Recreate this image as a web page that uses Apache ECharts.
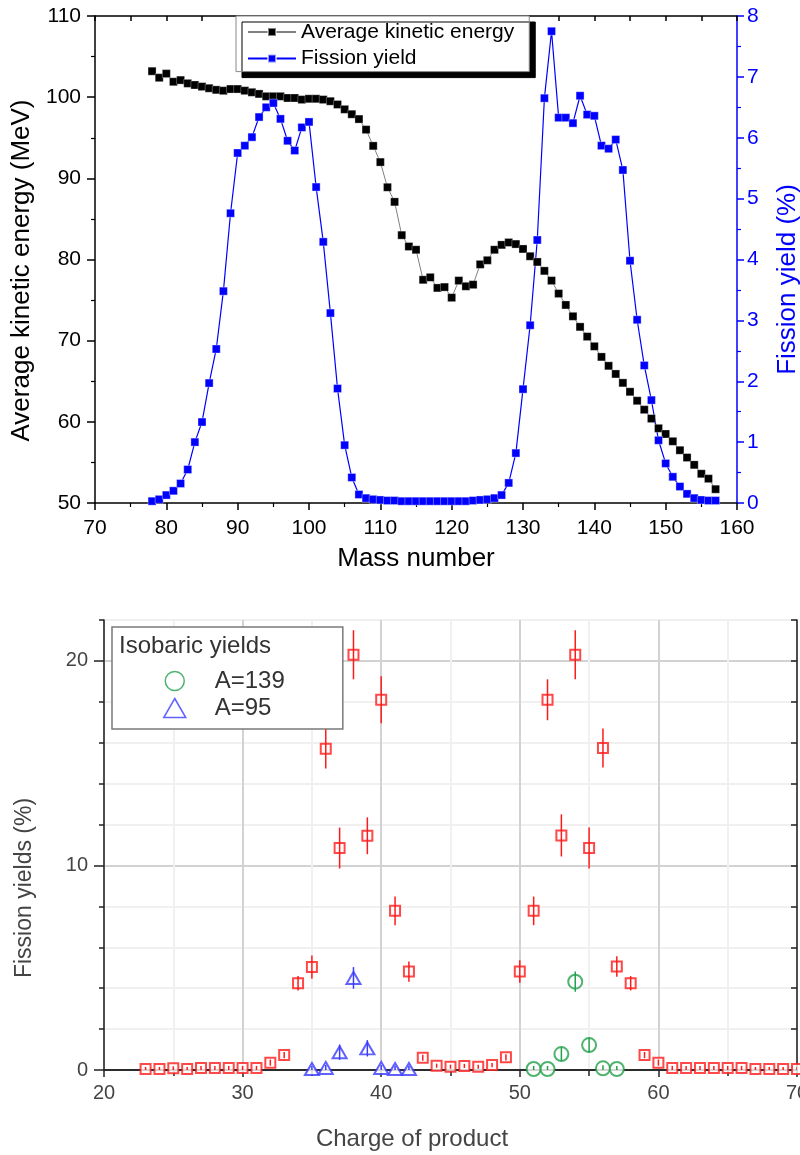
<!DOCTYPE html>
<html><head><meta charset="utf-8">
<script src="https://cdn.jsdelivr.net/npm/echarts@6/dist/echarts.min.js"></script>
<style>html,body{margin:0;padding:0;background:#fff}#c{width:800px;height:1155px}</style>
</head><body><div id="c"></div>
<script>
// ---------- Top chart data ----------
const massNumbers = [78,79,80,81,82,83,84,85,86,87,88,89,90,91,92,93,94,95,96,97,98,99,100,101,102,103,104,105,106,107,108,109,110,111,112,113,114,115,116,117,118,119,120,121,122,123,124,125,126,127,128,129,130,131,132,133,134,135,136,137,138,139,140,141,142,143,144,145,146,147,148,149,150,151,152,153,154,155,156,157];
const kineticEnergy = [103.2,102.4,102.9,101.9,102.1,101.7,101.5,101.3,101.1,100.9,100.8,101.0,101.0,100.8,100.6,100.4,100.1,100.1,100.1,99.9,99.9,99.7,99.8,99.8,99.7,99.5,99.1,98.5,97.9,97.3,96.0,94.0,92.0,88.9,87.1,83.0,81.6,81.2,77.5,77.8,76.5,76.6,75.3,77.4,76.7,76.9,79.4,79.9,81.2,81.8,82.1,81.9,81.3,80.4,79.7,78.6,77.4,75.8,74.4,73.0,71.7,70.5,69.3,68.0,66.9,65.9,64.8,63.7,62.6,61.5,60.4,59.2,58.5,57.6,56.5,55.6,54.7,53.6,53.0,51.7];
const fissionYield = [0.03,0.06,0.13,0.20,0.32,0.55,1.00,1.33,1.97,2.53,3.48,4.76,5.75,5.87,6.01,6.34,6.50,6.57,6.31,5.95,5.79,6.17,6.26,5.19,4.29,3.12,1.88,0.95,0.42,0.14,0.08,0.06,0.05,0.04,0.04,0.03,0.03,0.03,0.03,0.03,0.03,0.03,0.03,0.03,0.03,0.04,0.05,0.06,0.08,0.13,0.33,0.82,1.87,2.92,4.32,6.65,7.75,6.33,6.33,6.24,6.69,6.38,6.36,5.87,5.82,5.97,5.47,3.98,3.01,2.26,1.69,1.03,0.65,0.43,0.27,0.15,0.08,0.05,0.04,0.04];
const topSeriesNames = ['Average kinetic energy', 'Fission yield'];

// ---------- Bottom chart data ----------
const chargeAll = [23,24,25,26,27,28,29,30,31,32,33,34,35,36,37,38,39,40,41,42,43,44,45,46,47,48,49,50,51,52,53,54,55,56,57,58,59,60,61,62,63,64,65,66,67,68,69,70];
const yieldAll  = [0.05,0.05,0.08,0.05,0.1,0.1,0.1,0.1,0.1,0.36,0.73,4.24,5.03,15.7,10.85,20.3,11.45,18.1,7.78,4.81,0.60,0.21,0.16,0.2,0.16,0.24,0.62,4.81,7.78,18.1,11.47,20.3,10.85,15.74,5.06,4.24,0.73,0.36,0.1,0.1,0.1,0.1,0.1,0.1,0.05,0.05,0.05,0.05];
const errAll    = [0.1,0.1,0.1,0.1,0.1,0.1,0.1,0.1,0.1,0.15,0.15,0.35,0.57,0.96,1.0,1.2,0.9,1.15,0.7,0.5,0.15,0.1,0.1,0.1,0.1,0.1,0.15,0.55,0.7,1.0,1.03,1.2,1.0,0.95,0.5,0.35,0.15,0.15,0.1,0.1,0.1,0.1,0.1,0.1,0.1,0.1,0.1,0.1];
const chargeA139 = [51,52,53,54,55,56,57];
const yieldA139  = [0.05,0.05,0.78,4.32,1.22,0.08,0.05];
const errA139    = [0.15,0.15,0.33,0.5,0.37,0.15,0.15];
const chargeA95 = [35,36,37,38,39,40,41,42];
const yieldA95  = [0.05,0.1,0.87,4.5,1.06,0.1,0.05,0.05];
const errA95    = [0.15,0.15,0.37,0.53,0.4,0.15,0.15,0.15];
const bottomLegendNames = ['A=139', 'A=95'];
const bottomYLabels = [0, 10, 20];

const FONT = '"Liberation Sans", Arial, Helvetica, sans-serif';
const RED = '#ff1a1a', GREEN = '#22a04b', BLUE3 = '#3a3aff';

function pairs(xs, ys) { return xs.map((x, i) => [x, ys[i]]); }
function errorBars(name, xs, ys, es, color, xi, yi) {
  return {
    type: 'custom', name: name, xAxisIndex: xi, yAxisIndex: yi, z: 6, clip: true, silent: true,
    data: xs.map((x, i) => [x, ys[i] - es[i], ys[i] + es[i]]),
    renderItem: function (params, api) {
      const x = api.value(0);
      const lo = api.coord([x, api.value(1)]);
      const hi = api.coord([x, api.value(2)]);
      return { type: 'line', shape: { x1: lo[0], y1: lo[1], x2: hi[0], y2: hi[1] },
               style: { stroke: color, lineWidth: 1.5 } };
    }
  };
}

const chart = echarts.init(document.getElementById('c'), null, { renderer: 'canvas' });
const blackLine = { color: '#000', width: 1.5 };
const darkLine = { color: '#222', width: 1.5 };

const option = {
  animation: false,
  textStyle: { fontFamily: FONT },
  grid: [
    { left: 95, right: 63, top: 16, height: 487, containLabel: false, outerBoundsMode: 'none' },
    { left: 104, right: 3, top: 620, height: 450, containLabel: false, outerBoundsMode: 'none' }
  ],
  legend: [
    {
      data: topSeriesNames, orient: 'vertical', left: 236, top: 16,
      padding: [4, 15, 1, 11], itemGap: 2.6, itemWidth: 48, itemHeight: 10,
      backgroundColor: '#fff', borderColor: '#888', borderWidth: 1,
      shadowColor: '#000', shadowBlur: 0, shadowOffsetX: 6, shadowOffsetY: 6,
      textStyle: { fontSize: 21, color: '#000', lineHeight: 24, fontFamily: FONT }
    },
    {
      data: [
        { name: bottomLegendNames[0], icon: 'circle', itemStyle: { color: 'rgba(0,0,0,0)', borderColor: GREEN, borderWidth: 1.5 } },
        { name: bottomLegendNames[1], icon: 'triangle', itemStyle: { color: 'rgba(0,0,0,0)', borderColor: BLUE3, borderWidth: 1.5 } }
      ],
      orient: 'vertical', left: 112, top: 627,
      padding: [41, 58, 8, 51], itemGap: 1, itemWidth: 22, itemHeight: 19,
      backgroundColor: '#fff', borderColor: '#7a7a7a', borderWidth: 1.5,
      textStyle: { fontSize: 24, color: '#333', lineHeight: 26, padding: [0, 0, 0, 24], fontFamily: FONT }
    }
  ],
  graphic: [
    { type: 'text', left: 119, top: 634, z: 100,
      style: { text: 'Isobaric yields', font: '24px "Liberation Sans", Arial, sans-serif', fill: '#333' } }
  ],
  xAxis: [
    { gridIndex: 0, type: 'value', position: 'bottom', min: 70, max: 160, interval: 10,
      axisLine: { lineStyle: blackLine }, axisTick: { length: 7, lineStyle: blackLine },
      minorTick: { show: true, splitNumber: 2, length: 4, lineStyle: { color: '#000', width: 1.2 } },
      splitLine: { show: false },
      axisLabel: { fontSize: 21, color: '#000', margin: 15, alignMinLabel: 'center', alignMaxLabel: 'center' },
      name: 'Mass number', nameLocation: 'middle', nameGap: 43,
      nameTextStyle: { fontSize: 26, color: '#000' } },
    { gridIndex: 0, type: 'value', position: 'top', min: 70, max: 160, interval: 5,
      axisLine: { lineStyle: blackLine }, axisTick: { inside: true, length: 5, lineStyle: blackLine },
      axisLabel: { show: false }, splitLine: { show: false } },
    { gridIndex: 1, type: 'value', position: 'bottom', min: 20, max: 70, interval: 10,
      axisLine: { lineStyle: darkLine }, axisTick: { length: 7, lineStyle: darkLine },
      minorTick: { show: true, splitNumber: 2, length: 5, lineStyle: darkLine },
      splitLine: { show: true, lineStyle: { color: '#d2d2d2', width: 2 } },
      minorSplitLine: { show: true, lineStyle: { color: '#f0f0f0', width: 2 } },
      axisLabel: { fontSize: 20, color: '#444', margin: 13, alignMinLabel: 'center', alignMaxLabel: 'center' },
      name: 'Charge of product', nameLocation: 'middle', nameGap: 57,
      nameTextStyle: { fontSize: 24, color: '#444', padding: [0, 77, 0, 0] } },
    { gridIndex: 1, type: 'value', position: 'top', min: 20, max: 70, interval: 5,
      axisLine: { lineStyle: darkLine }, axisTick: { inside: true, length: 6, lineStyle: darkLine },
      axisLabel: { show: false }, splitLine: { show: false } }
  ],
  yAxis: [
    { gridIndex: 0, type: 'value', position: 'left', min: 50, max: 110, interval: 10,
      axisLine: { show: true, lineStyle: blackLine }, axisTick: { show: true, length: 8, lineStyle: blackLine },
      minorTick: { show: true, splitNumber: 2, length: 4, lineStyle: { color: '#000', width: 1.2 } },
      splitLine: { show: false },
      axisLabel: { fontSize: 21, color: '#000', margin: 14 },
      name: 'Average kinetic energy (MeV)', nameLocation: 'middle', nameGap: 46,
      nameTextStyle: { fontSize: 26, color: '#000', padding: [0, 22, 0, 0] } },
    { gridIndex: 0, type: 'value', position: 'right', min: 0, max: 8, interval: 1,
      axisLine: { show: true, lineStyle: { color: '#0000ff', width: 1.5 } },
      axisTick: { show: true, length: 7, lineStyle: { color: '#0000ff', width: 1.5 } },
      minorTick: { show: true, splitNumber: 2, length: 4, lineStyle: { color: '#0000ff', width: 1.2 } },
      splitLine: { show: false },
      axisLabel: { fontSize: 21, color: '#0000ff', margin: 10 },
      name: 'Fission yield (%)', nameLocation: 'middle', nameGap: 38,
      nameTextStyle: { fontSize: 26, color: '#0000ff', padding: [0, 40, 0, 0] } },
    // light minor grid (every 2 %)
    { gridIndex: 1, type: 'value', position: 'left', min: 0, max: 22, interval: 2,
      axisLine: { show: false }, axisTick: { show: true, length: 5, lineStyle: darkLine },
      axisLabel: { show: false },
      splitLine: { show: true, lineStyle: { color: '#f0f0f0', width: 2 } } },
    // main bottom y axis
    { gridIndex: 1, type: 'value', position: 'left', min: 0, max: 22, interval: 10,
      axisLine: { show: true, lineStyle: darkLine },
      axisTick: { show: true, length: 10, lineStyle: darkLine, customValues: bottomYLabels },
      axisLabel: { fontSize: 20, color: '#444', margin: 16, customValues: bottomYLabels,
        formatter: v => (v % 10 === 0 ? String(v) : '') },
      splitLine: { show: true, lineStyle: { color: '#d2d2d2', width: 2 } },
      name: 'Fission yields (%)', nameLocation: 'middle', nameGap: 68,
      nameTextStyle: { fontSize: 23, color: '#444', padding: [0, 86, 0, 0] } },
    { gridIndex: 1, type: 'value', position: 'right', min: 0, max: 22, interval: 2,
      axisLine: { show: true, lineStyle: darkLine }, axisTick: { show: true, inside: true, length: 6, lineStyle: darkLine },
      axisLabel: { show: false }, splitLine: { show: false } }
  ],
  series: [
    { name: topSeriesNames[0], type: 'line', xAxisIndex: 0, yAxisIndex: 0,
      data: pairs(massNumbers, kineticEnergy), symbol: 'rect', symbolSize: 8, showSymbol: true,
      itemStyle: { color: '#000', borderColor: 'rgba(255,255,255,0.5)', borderWidth: 0.6 },
      lineStyle: { color: '#808080', width: 1 } },
    { name: topSeriesNames[1], type: 'line', xAxisIndex: 0, yAxisIndex: 1,
      data: pairs(massNumbers, fissionYield), symbol: 'rect', symbolSize: 8, showSymbol: true,
      itemStyle: { color: '#0000ff', borderColor: 'rgba(255,255,255,0.6)', borderWidth: 0.6 },
      lineStyle: { color: '#0000ff', width: 1.2 } },
    { name: 'Chain yields', type: 'scatter', xAxisIndex: 2, yAxisIndex: 3,
      data: pairs(chargeAll, yieldAll), symbol: 'emptyRect', symbolSize: 10,
      itemStyle: { color: RED, borderWidth: 1.5 } },
    { name: bottomLegendNames[0], type: 'scatter', xAxisIndex: 2, yAxisIndex: 3,
      data: pairs(chargeA139, yieldA139), symbol: 'emptyCircle', symbolSize: 14,
      itemStyle: { color: GREEN, borderWidth: 1.5 } },
    { name: bottomLegendNames[1], type: 'scatter', xAxisIndex: 2, yAxisIndex: 3,
      data: pairs(chargeA95, yieldA95), symbol: 'emptyTriangle', symbolSize: [14, 12],
      itemStyle: { color: BLUE3, borderWidth: 1.5 } },
    errorBars('Chain yields error', chargeAll, yieldAll, errAll, RED, 2, 3),
    errorBars('A=139 error', chargeA139, yieldA139, errA139, GREEN, 2, 3),
    errorBars('A=95 error', chargeA95, yieldA95, errA95, BLUE3, 2, 3)
  ]
};
chart.setOption(option);
</script>
</body></html>
